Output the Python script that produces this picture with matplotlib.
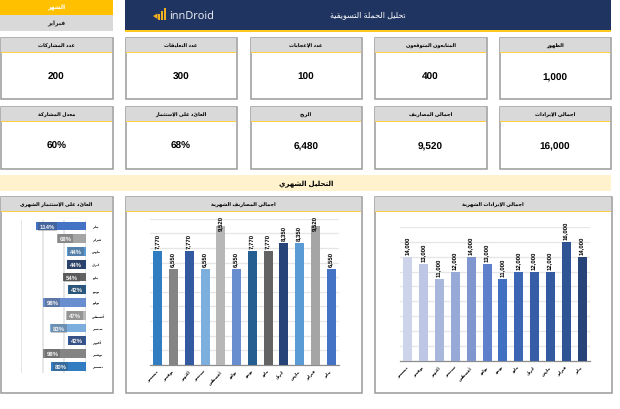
import matplotlib
matplotlib.use("Agg")
import matplotlib.pyplot as plt
from matplotlib.patches import Rectangle, Polygon

plt.rcParams['font.family'] = ['Liberation Sans', 'DejaVu Sans']
plt.rcParams['text.hinting'] = 'no_hinting'
plt.rcParams['text.hinting_factor'] = 1
FIG_W, FIG_H = 620, 410

# ---- data ----
months = ['يناير', 'فبراير', 'مارس', 'ابريل', 'مايو', 'يونيو', 'يوليو',
          'أغسطس', 'سبتمبر', 'أكتوبر', 'نوفمبر', 'ديسمبر']
revenue = [14000, 16000, 12000, 12000, 12000, 11000, 13000, 14000, 12000, 11000, 13000, 14000]
expenses = [6550, 9520, 8350, 8350, 7770, 7770, 6550, 9520, 6550, 7770, 6550, 7770]
roi = [114, 68, 44, 44, 54, 42, 98, 47, 83, 42, 98, 80]
top_cards = [('عدد المشاركات', '200'), ('عدد التعليقات', '300'), ('عدد الإعجابات', '100'),
             ('المتابعون المتوقعون', '400'), ('الظهور', '1,000')]
bottom_cards = [('معدل المشاركة', '60%'), ('العائد على الإستثمار', '68%'), ('الربح', '6,480'),
                ('اجمالي المصاريف', '9,520'), ('اجمالي الإيرادات', '16,000')]
varied_colors = ['#4472C4', '#A5A5A5', '#5B9BD5', '#264478', '#636363', '#255E91',
                 '#698ED0', '#B7B7B7', '#7CAFDD', '#335AA1', '#848484', '#327DC2']
mono_colors = ['#264478', '#2E5496', '#325AA0', '#355EA6', '#3B66B4', '#4170C2',
               '#5E80CB', '#7F96CF', '#97A9D7', '#A9B7DD', '#BDC6E4', '#CDD4EA']


# ---- minimal Arabic shaping (matplotlib has no shaping engine) ----
FORMS = {'ء': (0xFE80, 1), 'آ': (0xFE81, 2), 'أ': (0xFE83, 2), 'إ': (0xFE87, 2), 'ا': (0xFE8D, 2),
         'ب': (0xFE8F, 4), 'ة': (0xFE93, 2), 'ت': (0xFE95, 4), 'ث': (0xFE99, 4), 'ج': (0xFE9D, 4),
         'ح': (0xFEA1, 4), 'خ': (0xFEA5, 4), 'د': (0xFEA9, 2), 'ذ': (0xFEAB, 2), 'ر': (0xFEAD, 2),
         'ز': (0xFEAF, 2), 'س': (0xFEB1, 4), 'ش': (0xFEB5, 4), 'ص': (0xFEB9, 4), 'ض': (0xFEBD, 4),
         'ط': (0xFEC1, 4), 'ظ': (0xFEC5, 4), 'ع': (0xFEC9, 4), 'غ': (0xFECD, 4), 'ف': (0xFED1, 4),
         'ق': (0xFED5, 4), 'ك': (0xFED9, 4), 'ل': (0xFEDD, 4), 'م': (0xFEE1, 4), 'ن': (0xFEE5, 4),
         'ه': (0xFEE9, 4), 'و': (0xFEED, 2), 'ى': (0xFEEF, 2), 'ي': (0xFEF1, 4)}
LAM_ALEF = {'آ': 0xFEF5, 'أ': 0xFEF7, 'إ': 0xFEF9, 'ا': 0xFEFB}


def ar(text):
    out = []
    chars = list(text)
    i = 0
    prev_joins = False
    while i < len(chars):
        c = chars[i]
        if c not in FORMS:
            out.append(c)
            prev_joins = False
            i += 1
            continue
        nxt = chars[i + 1] if i + 1 < len(chars) else ''
        if c == 'ل' and nxt in LAM_ALEF:
            out.append(chr(LAM_ALEF[nxt] + (1 if prev_joins else 0)))
            prev_joins = False
            i += 2
            continue
        base, n = FORMS[c]
        next_ok = nxt in FORMS and n == 4
        if n == 1:
            form = 0
        elif prev_joins and next_ok:
            form = 3
        elif next_ok:
            form = 2
        elif prev_joins:
            form = 1
        else:
            form = 0
        out.append(chr(base + form))
        prev_joins = n == 4
        i += 1
    return ''.join(reversed(out))


# ---- canvas in pixel coordinates ----
fig = plt.figure(figsize=(FIG_W / 100, FIG_H / 100), dpi=100, facecolor='white')
bg = fig.add_axes([0, 0, 1, 1])
bg.set_xlim(0, FIG_W)
bg.set_ylim(FIG_H, 0)
bg.axis('off')


def box(x0, y0, x1, y1, fc, ec='none', lw=0, z=1):
    bg.add_patch(Rectangle((x0, y0), x1 - x0, y1 - y0, fc=fc, ec=ec, lw=lw, zorder=z))


def label(x, y, s, size, color='black', weight='bold'):
    bg.text(x, y, s, fontsize=size, color=color, weight=weight, ha='center', va='center', zorder=5)


def panel(x0, y0, x1, y1, head_h, title, size=3.7):
    box(x0 + .5, y0 + .5, x1 - .5, y1 - .5, 'white', '#9a9a9a', 1.1, z=1)
    box(x0 + 1, y0 + 1, x1 - 1, y0 + head_h, '#D9D9D9', z=2)
    box(x0 + 1, y0 + head_h, x1 - 1, y0 + head_h + 1, '#FFCF40', z=3)
    label((x0 + x1) / 2, y0 + head_h / 2 + .5, ar(title), size)


def chart_axes(x0, y0, x1, y1):
    ax = fig.add_axes([x0 / FIG_W, 1 - y1 / FIG_H, (x1 - x0) / FIG_W, (y1 - y0) / FIG_H])
    ax.patch.set_alpha(0)
    for s in ax.spines.values():
        s.set_visible(False)
    return ax


# month selector
box(0, 1, 113, 16, '#FFC000')
box(0, 16, 113, 32, '#D9D9D9')
label(56.5, 8, ar('الشهر'), 4.6, 'white')
label(56.5, 24, ar('فبراير'), 4.5, '#222222')

# banner
box(125, 1, 611, 31, '#1F3460')
box(125, 31, 611, 33, '#FFC91F')
label(368, 15.5, ar('تحليل الحملة التسويقية'), 6, 'white', 'normal')
for px, top in [(158, 14.5), (161, 11.5), (164, 9)]:
    box(px, top, px + 2.4, 20.5, '#F2B01E', z=3)
bg.add_patch(Polygon([(153, 17), (157.5, 14.5), (157.5, 20)], fc='#F2B01E', ec='none', zorder=3))
bg.text(169, 16.5, 'innDroid', fontsize=8.2, color='#F4F6FA', ha='left', va='center',
        family='Open Sans', zorder=5)

# KPI cards
cols = [(0, 113), (125, 237), (250, 362), (374, 487), (499, 611)]
for (x0, x1), (t, v) in zip(cols, top_cards):
    panel(x0, 38, x1, 100, 15, t)
    label((x0 + x1) / 2, 77.5, v, 7)
for (x0, x1), (t, v) in zip(cols, bottom_cards):
    panel(x0, 107, x1, 170, 15, t)
    label((x0 + x1) / 2, 146.5, v, 7)

# section band
box(0, 176, 611, 192, '#FFF2CC')
label(306, 184.5, ar('التحليل الشهري'), 4.7)

# chart panels
panel(0, 197, 113, 394, 15, 'العائد على الإستثمار الشهري', 3.5)
panel(125, 197, 362, 394, 15, 'اجمالي المصاريف الشهرية', 3.65)
panel(374, 197, 612, 394, 15, 'اجمالي الإيرادات الشهرية', 3.6)


def column_chart(rect, values, colors, ymax, step, label_cap):
    ax = chart_axes(*rect)
    xs = list(range(len(values)))
    ax.bar(xs, values, width=0.575, color=colors, zorder=3)
    ax.set_xlim(len(values) - .5, -.5)
    ax.set_ylim(0, ymax)
    ax.set_yticks(range(0, ymax + 1, step))
    ax.tick_params(axis='y', length=0, labelleft=False)
    ax.tick_params(axis='x', length=0, pad=4)
    ax.grid(axis='y', color='#E6E6E6', lw=0.9, zorder=0)
    ax.set_axisbelow(True)
    ax.spines['bottom'].set_visible(True)
    ax.spines['bottom'].set_color('#8C8C8C')
    ax.spines['bottom'].set_linewidth(0.9)
    ax.set_xticks(xs)
    ax.set_xticklabels([ar(m) for m in months], rotation=45, ha='right', va='center',
                       rotation_mode='anchor', fontsize=2.9, fontweight='bold')
    for x, v in zip(xs, values):
        ax.annotate(f'{v:,}', (x, min(v, label_cap)), xytext=(0, 2.2), textcoords='offset points',
                    rotation=90, ha='center', va='bottom', fontsize=4.6, fontweight='bold', zorder=4)
    return ax


column_chart((150, 219.7, 339, 365.7), expenses, varied_colors, 10000, 1000, 9040)
column_chart((400, 228, 590, 361.7), revenue, mono_colors, 18000, 2000, 18000)

# ROI horizontal bars (reversed value axis)
ax = chart_axes(20.7, 220.7, 86.3, 373.7)
ys = list(range(len(roi)))
ax.barh(ys, roi, height=0.68, color=varied_colors, zorder=3)
ax.set_xlim(150, 0)
ax.set_ylim(len(roi) - .5, -.5)
ax.set_xticks([0, 50, 100, 150])
ax.tick_params(axis='x', length=0, labelbottom=False)
ax.grid(axis='x', color='#E3E3E3', lw=1.2, zorder=0)
ax.set_axisbelow(True)
ax.set_yticks(ys)
ax.yaxis.tick_right()
ax.set_yticklabels([ar(m) for m in months], fontsize=2.5, fontweight='bold')
ax.tick_params(axis='y', length=0, pad=4)
for y, v in zip(ys, roi):
    ax.annotate(f'{v}%', (v, y), xytext=(2.2, 0), textcoords='offset points',
                ha='left', va='center', fontsize=4.2, fontweight='bold', color='#F2F2F2', zorder=5,
                bbox=dict(boxstyle='square,pad=0.3', fc='#404040', ec='none', alpha=0.28))

fig.savefig('out.png', dpi=100, facecolor='white')
